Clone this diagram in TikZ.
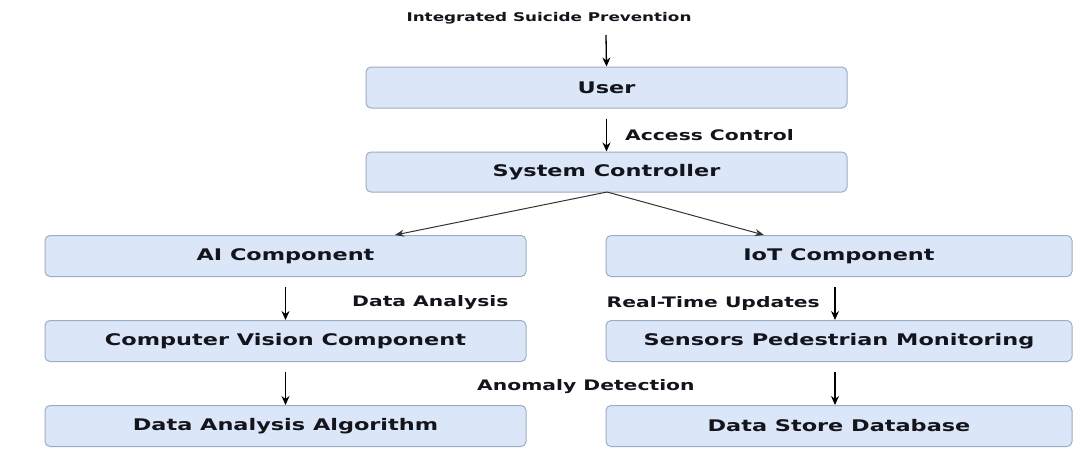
\documentclass[tikz,border=0pt]{standalone}
\usepackage{fontspec}
\usetikzlibrary{arrows.meta}
\newfontfamily\boxfont[FakeStretch=1.4]{DejaVu Sans}
\definecolor{boxfill}{RGB}{219,231,249}
\definecolor{boxline}{RGB}{158,172,194}
\definecolor{txt}{RGB}{20,20,28}
\tikzset{
  compbox/.style={draw=boxline, line width=1pt, fill=boxfill, rounded corners=5pt,
    minimum height=41pt, inner sep=0pt, text=txt,
    font=\boxfont\bfseries\fontsize{16pt}{18pt}\selectfont},
  lbl/.style={inner sep=0pt, text=txt, font=\boxfont\bfseries\fontsize{14.5pt}{16pt}\selectfont},
  ttl/.style={inner sep=0pt, text=txt, font=\boxfont\bfseries\fontsize{12pt}{14pt}\selectfont},
  arr/.style={-{Stealth[length=9pt,width=8pt]}, line width=1.3pt, black},
  darr/.style={-{Stealth[length=9pt,width=7pt]}, line width=1pt, black!80}
}
\begin{document}
\begin{tikzpicture}[x=1pt,y=-1pt]
\useasboundingbox[fill=white] (0,0) rectangle (1077,450);
\node[ttl] (title) at (549,18) {Integrated Suicide Prevention};
\node[compbox, minimum width=481pt] (user) at (606.5,87.5) {User};
\node[compbox, minimum width=481pt, minimum height=40pt] (sc) at (606.5,172) {System Controller};
\node[compbox, minimum width=481pt] (ai) at (285.5,256) {AI Component};
\node[compbox, minimum width=466pt] (iot) at (839,256) {IoT Component};
\node[compbox, minimum width=481pt] (cv) at (285.5,341) {Computer Vision Component};
\node[compbox, minimum width=466pt] (spm) at (839,341) {Sensors Pedestrian Monitoring};
\node[compbox, minimum width=481pt] (daa) at (285.5,426) {Data Analysis Algorithm};
\node[compbox, minimum width=466pt] (dsd) at (839,426) {Data Store Database};
\node[lbl, anchor=west] (lac) at (625,135) {Access Control};
\node[lbl, anchor=west] (lda) at (352,303) {Data Analysis};
\node[lbl, anchor=east] (lrt) at (820,303) {Real-Time Updates};
\node[lbl, anchor=west] (lad) at (477,387) {Anomaly Detection};
\coordinate (t1) at (606,35);
\draw[arr] (t1) -- (user.north);
\draw[arr] ([yshift=-10pt]user.south) -- (sc.north);
\coordinate (scb) at (607,192);
\coordinate (aitip) at (395,235);
\coordinate (iottip) at (764,235);
\draw[darr] (scb) -- (aitip);
\draw[darr] (scb) -- (iottip);
\draw[arr] ([yshift=-10pt]ai.south) -- (cv.north);
\draw[arr] ([yshift=-10pt]cv.south) -- (daa.north);
\draw[arr] ([xshift=-4pt,yshift=-10pt]iot.south) -- ([xshift=-4pt]spm.north);
\draw[arr] ([xshift=-4pt,yshift=-10pt]spm.south) -- ([xshift=-4pt]dsd.north);
\end{tikzpicture}
\end{document}
